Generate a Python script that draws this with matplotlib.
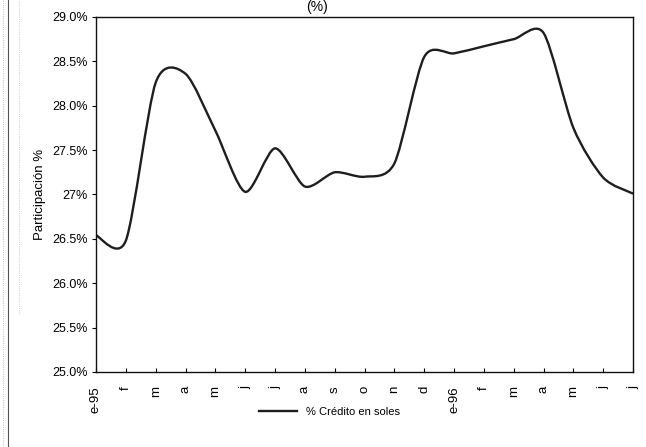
import numpy as np
import matplotlib.pyplot as plt
from matplotlib.path import Path
from matplotlib.patches import PathPatch
from matplotlib.lines import Line2D

plt.rcParams['font.family'] = ['Liberation Sans', 'DejaVu Sans']

# monthly share of credit in soles, Jan-95 .. Jul-96
months = ['e-95', 'f', 'm', 'a', 'm', 'j', 'j', 'a', 's', 'o', 'n', 'd',
          'e-96', 'f', 'm', 'a', 'm', 'j', 'j']
credito_soles = [26.54, 26.48, 28.26, 28.36, 27.72, 27.03, 27.52, 27.09,
                 27.25, 27.20, 27.35, 28.55, 28.59, 28.67, 28.75, 28.82,
                 27.75, 27.19, 27.01]
y_ticks = [25.0, 25.5, 26.0, 26.5, 27.0, 27.5, 28.0, 28.5, 29.0]
y_labels = ['25.0%', '25.5%', '26.0%', '26.5%', '27%', '27.5%', '28.0%',
            '28.5%', '29.0%']


def smooth_path(xs, ys, tension=1 / 7.5):
    # spreadsheet-style smoothed line: cubic bezier through every point
    n = len(xs)
    verts = [(xs[0], ys[0])]
    codes = [Path.MOVETO]
    for i in range(n - 1):
        a, b = max(i - 1, 0), min(i + 2, n - 1)
        c1 = (xs[i] + (xs[i + 1] - xs[a]) * tension,
              ys[i] + (ys[i + 1] - ys[a]) * tension)
        c2 = (xs[i + 1] - (xs[b] - xs[i]) * tension,
              ys[i + 1] - (ys[b] - ys[i]) * tension)
        verts += [c1, c2, (xs[i + 1], ys[i + 1])]
        codes += [Path.CURVE4] * 3
    return Path(verts, codes)


fig = plt.figure(figsize=(6.46, 4.47), dpi=100)
ax = fig.add_axes([0.1486, 0.1678, 0.8314, 0.7942])

x = np.arange(len(months))
ax.set_xlim(0, len(months) - 1)
ax.set_ylim(25.0, 29.0)

line_color = '#1e1e1e'
ax.add_patch(PathPatch(smooth_path(x, credito_soles), facecolor='none',
                       edgecolor=line_color, lw=1.7))

ax.set_yticks(y_ticks)
ax.set_yticklabels(y_labels, fontsize=9)
ax.set_xticks(x)
ax.set_xticklabels(months, rotation=90, fontsize=9.5)
ax.tick_params(axis='x', direction='in', length=3, pad=10)
ax.tick_params(axis='y', direction='out', length=3, pad=3)
ax.set_ylabel('Participación %', fontsize=9.5, labelpad=4)
for s in ax.spines.values():
    s.set_linewidth(1.0)
    s.set_color('#111111')

proxy = Line2D([], [], color=line_color, lw=1.7)
fig.legend([proxy], ['% Crédito en soles'], loc='center',
           bbox_to_anchor=(0.51, 0.078), frameon=False, fontsize=8,
           handlelength=3.5)

# title of the chart sits right at the top edge of the scan
fig.text(0.49, 0.999, '(%)', ha='center', va='top', fontsize=10)

# scan gutter on the left edge
fig.add_artist(Line2D([0.012, 0.012], [0.0, 1.0], color='#555555', lw=0.8))
fig.add_artist(Line2D([0.004, 0.004], [0.0, 1.0], color='#aaaaaa', lw=0.6,
                      ls=':'))
fig.add_artist(Line2D([0.03, 0.03], [0.3, 1.0], color='#bbbbbb', lw=0.6,
                      ls=':'))

fig.savefig('out.png', dpi=100)
